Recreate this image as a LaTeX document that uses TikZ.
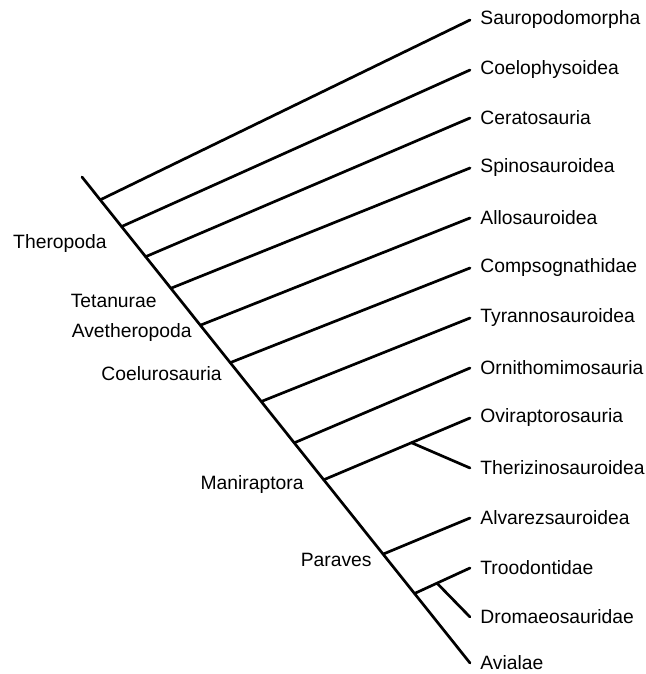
\documentclass[tikz,border=0pt]{standalone}
\usepackage{fontspec}
\setmainfont{Liberation Sans}
\usetikzlibrary{positioning,calc}

\begin{document}
\begin{tikzpicture}[x=0.5pt, y=-0.5pt,
  taxon/.style={anchor=west, inner xsep=5pt, inner ysep=0pt, font=\fontsize{9.65}{11}\selectfont},
  clade/.style={anchor=east, inner sep=0pt, font=\fontsize{9.65}{11}\selectfont},
  branch/.style={line width=1.35pt, line cap=round}]

\useasboundingbox (0,0) rectangle (646,674);

% terminal taxa
\node[taxon] (saur)  at (470,20)  {Sauropodomorpha};
\node[taxon] (coel)  at (470,70)  {Coelophysoidea};
\node[taxon] (cera)  at (470,118) {Ceratosauria};
\node[taxon] (spin)  at (470,168) {Spinosauroidea};
\node[taxon] (allo)  at (470,218) {Allosauroidea};
\node[taxon] (comp)  at (470,268) {Compsognathidae};
\node[taxon] (tyra)  at (470,318) {Tyrannosauroidea};
\node[taxon] (orni)  at (470,368) {Ornithomimosauria};
\node[taxon] (ovi)   at (470,418) {Oviraptorosauria};
\node[taxon] (theri) at (470,468) {Therizinosauroidea};
\node[taxon] (alva)  at (470,518) {Alvarezsauroidea};
\node[taxon] (troo)  at (470,568) {Troodontidae};
\node[taxon] (drom)  at (470,617) {Dromaeosauridae};
\node[taxon] (avi)   at (470,663) {Avialae};

% clade names
\node[clade] (thero) at (107,244) {Theropoda};
\node[clade] (teta)  at (157,301) {Tetanurae};
\node[clade] (avet)  at (192,333) {Avetheropoda};
\node[clade] (coelu) at (222,374) {Coelurosauria};
\node[clade] (mani)  at (304,485) {Maniraptora};
\node[clade] (para)  at (372,560) {Paraves};

% main stem
\coordinate (root) at (82,177);
\draw[branch] (root) --
  coordinate[pos=0.047] (j1) coordinate[pos=0.102] (j2)
  coordinate[pos=0.164] (j3) coordinate[pos=0.229] (j4)
  coordinate[pos=0.305] (j5) coordinate[pos=0.382] (j6)
  coordinate[pos=0.462] (j7) coordinate[pos=0.547] (j8)
  coordinate[pos=0.623] (j9) coordinate[pos=0.776] (j10)
  coordinate[pos=0.857] (j11) (avi.west);

% side branches
\draw[branch] (j1) -- (saur.west);
\draw[branch] (j2) -- (coel.west);
\draw[branch] (j3) -- (cera.west);
\draw[branch] (j4) -- (spin.west);
\draw[branch] (j5) -- (allo.west);
\draw[branch] (j6) -- (comp.west);
\draw[branch] (j7) -- (tyra.west);
\draw[branch] (j8) -- (orni.west);
\draw[branch] (j9) -- coordinate[pos=0.6] (s1) (ovi.west);
\draw[branch] (s1) -- (theri.west);
\draw[branch] (j10) -- (alva.west);
\draw[branch] (j11) -- coordinate[pos=0.405] (s2) (troo.west);
\draw[branch] (s2) -- (drom.west);
\end{tikzpicture}
\end{document}
